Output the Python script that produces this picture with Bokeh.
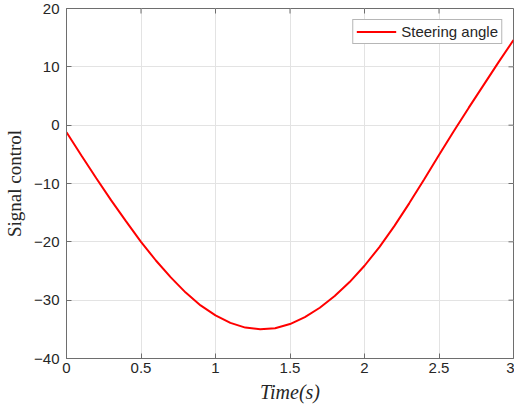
import math
from bokeh.plotting import figure
from bokeh.models import Range1d, FixedTicker, Legend, LegendItem
from bokeh.embed import file_html
from bokeh.resources import INLINE

time_s = [0.0, 0.1, 0.2, 0.3, 0.4, 0.5, 0.6, 0.7, 0.8, 0.9, 1.0,
          1.1, 1.2, 1.3, 1.4, 1.5, 1.6, 1.7, 1.8, 1.9, 2.0,
          2.1, 2.2, 2.3, 2.4, 2.5, 2.6, 2.7, 2.8, 2.9, 3.0]
steering_angle = [-1.2, -5.2, -9.1, -12.9, -16.5, -20.0, -23.2, -26.1, -28.7, -30.9, -32.6,
                  -33.9, -34.7, -35.0, -34.8, -34.1, -32.9, -31.3, -29.3, -26.9, -24.1,
                  -20.9, -17.3, -13.4, -9.3, -5.1, -1.0, 3.0, 6.9, 10.8, 14.6]
x_ticks = [0, 0.5, 1, 1.5, 2, 2.5, 3]
x_tick_labels = ["0", "0.5", "1", "1.5", "2", "2.5", "3"]
y_ticks = [-40, -30, -20, -10, 0, 10, 20]
x_limits = [0, 3]
y_limits = [-40, 20]
legend_label = "Steering angle"

AX = "#6e6e6e"
TXT = "#262626"
FONT = "Liberation Sans"

p = figure(width=514, height=413, output_backend="svg", toolbar_location=None,
           x_range=Range1d(*x_limits), y_range=Range1d(*y_limits),
           min_border_left=66, min_border_right=1, min_border_top=8, min_border_bottom=55)
p.outline_line_color = AX
p.background_fill_color = "white"
p.border_fill_color = "white"

p.xgrid.ticker = FixedTicker(ticks=x_ticks)
p.ygrid.ticker = FixedTicker(ticks=y_ticks)
p.grid.grid_line_color = "#e3e3e3"
p.grid.grid_line_width = 1

r = p.line(time_s, steering_angle, line_color="#ff0000", line_width=2)

# mirrored inward ticks on top and right edges (box on)
p.ray(x=x_ticks, y=[y_limits[1]] * len(x_ticks), length=5, length_units="screen",
      angle=-math.pi / 2, line_color=AX, line_width=1)
p.ray(x=[x_limits[1]] * len(y_ticks), y=y_ticks, length=5, length_units="screen",
      angle=math.pi, line_color=AX, line_width=1)

for ax in (p.xaxis[0], p.yaxis[0]):
    ax.axis_line_color = AX
    ax.major_tick_line_color = AX
    ax.major_tick_in = 5
    ax.major_tick_out = 0
    ax.minor_tick_line_color = None
    ax.major_label_text_font = FONT
    ax.major_label_text_font_size = "15px"
    ax.major_label_text_color = TXT
    ax.axis_label_text_font = "Liberation Serif"
    ax.axis_label_text_color = TXT

p.xaxis[0].ticker = FixedTicker(ticks=x_ticks)
p.xaxis[0].major_label_overrides = {t: l for t, l in zip(x_ticks, x_tick_labels)}
p.yaxis[0].ticker = FixedTicker(ticks=y_ticks)
p.xaxis[0].axis_label = "Time(s)"
p.xaxis[0].axis_label_text_font_style = "italic"
p.xaxis[0].axis_label_text_font_size = "20px"
p.xaxis[0].axis_label_standoff = 5
p.xaxis[0].major_label_standoff = 4
p.yaxis[0].axis_label = "Signal control"
p.yaxis[0].axis_label_text_font_style = "normal"
p.yaxis[0].axis_label_text_font_size = "19px"
p.yaxis[0].major_label_standoff = 7
p.yaxis[0].axis_label_standoff = 6

legend = Legend(items=[LegendItem(label=legend_label, renderers=[r])],
                location="top_right")
legend.margin = 11
legend.padding = 3
legend.spacing = 0
legend.label_height = 17
legend.glyph_height = 17
legend.glyph_width = 40
legend.label_standoff = 5
legend.label_text_font = FONT
legend.label_text_font_size = "15px"
legend.label_text_color = TXT
legend.border_line_color = AX
legend.border_line_width = 1
legend.background_fill_alpha = 1
p.add_layout(legend, "center")

open("out.html", "w").write(file_html(p, INLINE))
